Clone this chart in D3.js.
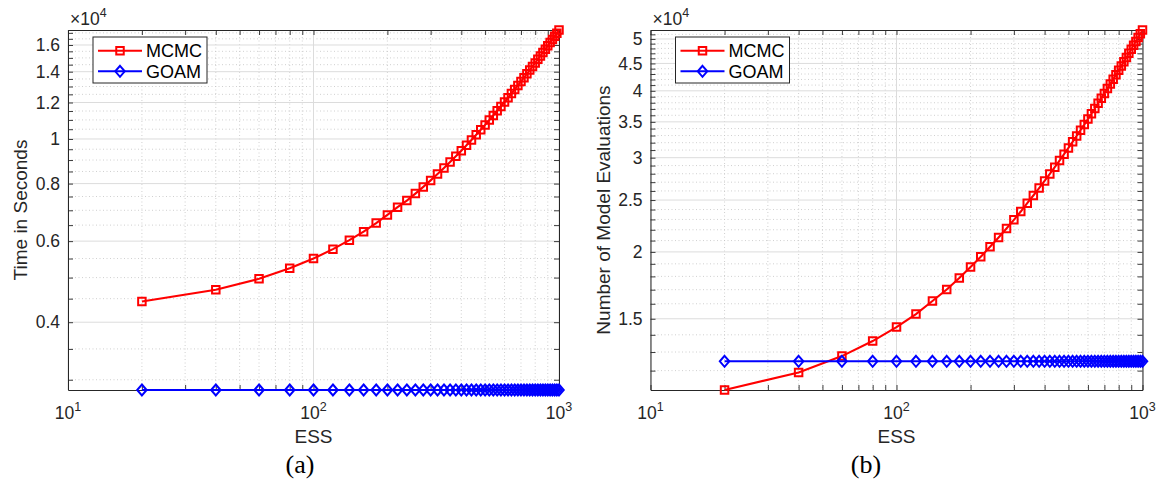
<!DOCTYPE html>
<html>
<head>
<meta charset="utf-8">
<script src="https://cdn.jsdelivr.net/npm/d3@7"></script>
<style>
  html, body { margin: 0; padding: 0; background: #ffffff; }
  svg { display: block; }
</style>
</head>
<body>
<svg id="chart" width="1165" height="488"></svg>
<script>
// ---------------- data ----------------
const ess = [20, 40, 60, 80, 100, 120, 140, 160, 180, 200,
             220, 240, 260, 280, 300, 320, 340, 360, 380, 400,
             420, 440, 460, 480, 500, 520, 540, 560, 580, 600,
             620, 640, 660, 680, 700, 720, 740, 760, 780, 800,
             820, 840, 860, 880, 900, 920, 940, 960, 980, 1000];

// (a) Time in seconds
const mcmcTime = [4436, 4706, 4970, 5240, 5500, 5763, 6030, 6292, 6567, 6840,
                  7109, 7350, 7610, 7870, 8130, 8390, 8650, 8910, 9170, 9430,
                  9690, 9950, 10210, 10470, 10730, 10990, 11250, 11510, 11770, 12030,
                  12290, 12550, 12810, 13070, 13330, 13590, 13850, 14110, 14370, 14630,
                  14890, 15150, 15410, 15670, 15930, 16190, 16450, 16710, 16970, 17245];
const goamTime = [2850, 2850, 2850, 2850, 2850, 2850, 2850, 2850, 2850, 2850,
                  2850, 2850, 2850, 2850, 2850, 2850, 2850, 2850, 2850, 2850,
                  2850, 2850, 2850, 2850, 2850, 2850, 2850, 2850, 2850, 2850,
                  2850, 2850, 2850, 2850, 2850, 2850, 2850, 2850, 2850, 2850,
                  2850, 2850, 2850, 2850, 2850, 2850, 2850, 2850, 2850, 2850];

// (b) Number of model evaluations
const mcmcEvals = [11040, 11906, 12775, 13628, 14473, 15306, 16190, 17013, 17869, 18737,
                   19581, 20444, 21281, 22121, 22961, 23793, 24668, 25495, 26322, 27149,
                   27976, 28803, 29630, 30457, 31284, 32111, 32938, 33765, 34592, 35419,
                   36246, 37073, 37900, 38727, 39554, 40381, 41208, 42035, 42862, 43689,
                   44516, 45343, 46170, 46997, 47824, 48651, 49478, 50305, 51132, 51965];
const goamEvals = [12490, 12490, 12490, 12490, 12490, 12490, 12490, 12490, 12490, 12490,
                   12490, 12490, 12490, 12490, 12490, 12490, 12490, 12490, 12490, 12490,
                   12490, 12490, 12490, 12490, 12490, 12490, 12490, 12490, 12490, 12490,
                   12490, 12490, 12490, 12490, 12490, 12490, 12490, 12490, 12490, 12490,
                   12490, 12490, 12490, 12490, 12490, 12490, 12490, 12490, 12490, 12490];

const seriesNames = ["MCMC", "GOAM"];
const xMajorTicks = [10, 100, 1000];
const xTickExponents = ["1", "2", "3"];
const xMinorTicks = [20, 30, 40, 50, 60, 70, 80, 90, 200, 300, 400, 500, 600, 700, 800, 900];
const yMajorTicksA = [4000, 6000, 8000, 10000, 12000, 14000, 16000];
const yMajorTicksB = [15000, 20000, 25000, 30000, 35000, 40000, 45000, 50000];
const yLabels = ["Time in Seconds", "Number of Model Evaluations"];
const xLabel = "ESS";
const captions = ["(a)", "(b)"];

// ---------------- drawing ----------------
const svg = d3.select("#chart");
const FONT = "'Liberation Sans', Arial, Helvetica, sans-serif";
const AXC = "#262626";
const RED = "#ff0000", BLUE = "#0000ff";

function minorsBetween(lo, hi, step, majors) {
  const out = [];
  for (let v = lo; v <= hi + 1e-9; v += step) {
    if (!majors.some(m => Math.abs(m - v) < 1e-6)) out.push(v);
  }
  return out;
}

function squarePath(s) { const h = s / 2; return `M${-h},${-h}H${h}V${h}H${-h}Z`; }
function diamondPath(w, h) { return `M0,${-h/2}L${w/2},0L0,${h/2}L${-w/2},0Z`; }

function panel(o) {
  const g = svg.append("g");
  const x = d3.scaleLog().domain([10, 1000]).range([o.L, o.R]);
  const allY = o.series.flatMap(s => s.values);
  const y = d3.scaleLog().domain(d3.extent(allY)).range([o.B, o.T]);
  const [y0, y1] = y.domain();
  const yMinor = minorsBetween(o.minorStart, y1, o.minorStep, o.yMajor).filter(v => v >= y0 && v <= y1);

  // grid
  const grid = g.append("g");
  grid.selectAll("line.xmin").data(xMinorTicks).join("line")
    .attr("x1", d => x(d)).attr("x2", d => x(d)).attr("y1", o.T).attr("y2", o.B)
    .attr("stroke", "#c4c4c4").attr("stroke-width", 0.8).attr("stroke-dasharray", "1,2.5");
  grid.selectAll("line.ymin").data(yMinor).join("line")
    .attr("y1", d => y(d)).attr("y2", d => y(d)).attr("x1", o.L).attr("x2", o.R)
    .attr("stroke", "#c4c4c4").attr("stroke-width", 0.8).attr("stroke-dasharray", "1,2.5");
  grid.selectAll("line.xmaj").data(xMajorTicks).join("line")
    .attr("x1", d => x(d)).attr("x2", d => x(d)).attr("y1", o.T).attr("y2", o.B)
    .attr("stroke", "#dcdcdc").attr("stroke-width", 1);
  grid.selectAll("line.ymaj").data(o.yMajor).join("line")
    .attr("y1", d => y(d)).attr("y2", d => y(d)).attr("x1", o.L).attr("x2", o.R)
    .attr("stroke", "#dcdcdc").attr("stroke-width", 1);

  // axes
  const allYT = o.yMajor.concat(yMinor);
  const fmt = d => o.yMajor.includes(d) ? String(+(d / 1e4).toFixed(2)) : "";
  const styleAxis = sel => {
    sel.select(".domain").attr("stroke", AXC).attr("stroke-width", 1);
    sel.selectAll(".tick line").attr("stroke", AXC).attr("stroke-width", 0.9);
    sel.selectAll(".tick text").attr("fill", AXC).style("font-family", FONT).style("font-size", "17.5px");
  };
  g.append("g").attr("transform", `translate(${o.L},0)`)
    .call(d3.axisLeft(y).tickValues(allYT).tickFormat(fmt).tickSizeInner(-5).tickSizeOuter(0).tickPadding(8))
    .call(styleAxis);
  g.append("g").attr("transform", `translate(${o.R},0)`)
    .call(d3.axisRight(y).tickValues(allYT).tickFormat("").tickSizeInner(-5).tickSizeOuter(0))
    .call(styleAxis);
  g.append("g").attr("transform", `translate(0,${o.B})`)
    .call(d3.axisBottom(x).tickValues(xMajorTicks.concat(xMinorTicks)).tickFormat("").tickSizeInner(-5).tickSizeOuter(0))
    .call(styleAxis);
  g.append("g").attr("transform", `translate(0,${o.T})`)
    .call(d3.axisTop(x).tickValues(xMajorTicks.concat(xMinorTicks)).tickFormat("").tickSizeInner(-5).tickSizeOuter(0))
    .call(styleAxis);

  // x tick labels 10^n
  xMajorTicks.forEach((v, i) => {
    const t = g.append("text").attr("x", x(v)).attr("y", o.B + 29)
      .attr("text-anchor", "middle").attr("fill", AXC)
      .style("font-family", FONT).style("font-size", "17.5px");
    t.append("tspan").text("10");
    t.append("tspan").attr("dy", -8).style("font-size", "12.5px").text(xTickExponents[i]);
  });

  // exponent label x10^4
  const ex = g.append("text").attr("x", o.L + 2).attr("y", o.T - 5).attr("fill", AXC)
    .style("font-family", FONT).style("font-size", "17.5px");
  ex.append("tspan").text("\u00D710");
  ex.append("tspan").attr("dy", -8).style("font-size", "12.5px").text("4");

  // axis labels
  g.append("text").attr("x", (o.L + o.R) / 2).attr("y", o.B + 53)
    .attr("text-anchor", "middle").attr("fill", AXC)
    .style("font-family", FONT).style("font-size", "19px").text(xLabel);
  g.append("text").attr("transform", `translate(${o.ylabelX},${(o.T + o.B) / 2}) rotate(-90)`)
    .attr("text-anchor", "middle").attr("fill", AXC)
    .style("font-family", FONT).style("font-size", "19px").text(o.ylabel);

  // series
  const line = d3.line().x((d, i) => x(ess[i])).y(d => y(d));
  o.series.forEach(s => {
    g.append("path").datum(s.values).attr("d", line)
      .attr("fill", "none").attr("stroke", s.color).attr("stroke-width", 2.1);
    g.selectAll(null).data(s.values).join("path")
      .attr("transform", (d, i) => `translate(${x(ess[i])},${y(d)})`)
      .attr("d", s.marker === "square" ? squarePath(7.5) : diamondPath(9.5, 11))
      .attr("fill", "none").attr("stroke", s.color).attr("stroke-width", 2);
  });

  // legend
  const lg = g.append("g");
  lg.append("rect").attr("x", o.L + 25).attr("y", 37).attr("width", 114).attr("height", 46)
    .attr("fill", "#ffffff").attr("stroke", AXC).attr("stroke-width", 1);
  o.series.forEach((s, i) => {
    const yy = 50.7 + i * 20.6;
    lg.append("line").attr("x1", o.L + 30).attr("x2", o.L + 74).attr("y1", yy).attr("y2", yy)
      .attr("stroke", s.color).attr("stroke-width", 2.1);
    lg.append("path").attr("transform", `translate(${o.L + 52},${yy})`)
      .attr("d", s.marker === "square" ? squarePath(7.5) : diamondPath(9.5, 11))
      .attr("fill", "none").attr("stroke", s.color).attr("stroke-width", 2);
    lg.append("text").attr("x", o.L + 78).attr("y", yy + 6.3).attr("fill", "#000")
      .style("font-family", FONT).style("font-size", "18px").text(s.name);
  });

  // caption
  g.append("text").attr("x", o.captionX).attr("y", 473).attr("text-anchor", "middle")
    .attr("fill", "#000").style("font-family", "'Liberation Serif', 'DejaVu Serif', serif")
    .style("font-size", "26px").text(o.caption);
}

panel({
  L: 68, R: 559, T: 30, B: 390,
  series: [
    { name: seriesNames[0], values: mcmcTime, color: RED, marker: "square" },
    { name: seriesNames[1], values: goamTime, color: BLUE, marker: "diamond" }
  ],
  yMajor: yMajorTicksA, minorStart: 3000, minorStep: 500,
  ylabel: yLabels[0], ylabelX: 27, caption: captions[0], captionX: 300
});
panel({
  L: 650.5, R: 1142.5, T: 30, B: 390,
  series: [
    { name: seriesNames[0], values: mcmcEvals, color: RED, marker: "square" },
    { name: seriesNames[1], values: goamEvals, color: BLUE, marker: "diamond" }
  ],
  yMajor: yMajorTicksB, minorStart: 11000, minorStep: 1000,
  ylabel: yLabels[1], ylabelX: 610, caption: captions[1], captionX: 866
});
</script>
</body>
</html>
